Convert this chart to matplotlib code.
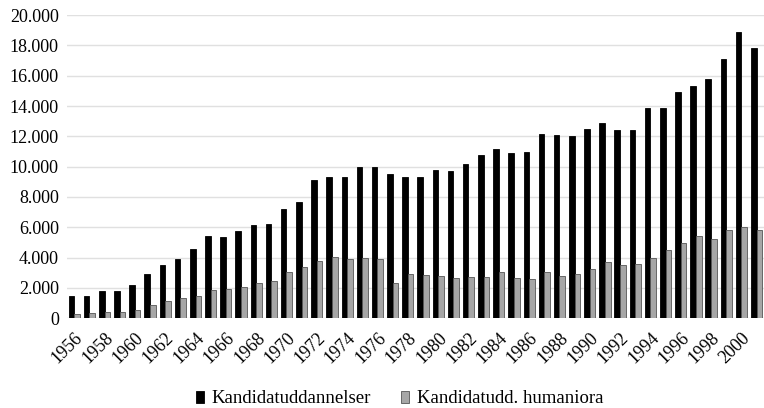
import numpy as np
import matplotlib.pyplot as plt
from matplotlib.ticker import FuncFormatter

years = list(range(1956, 2002))
kandidat = [1500, 1450, 1780, 1780, 2200, 2900, 3500, 3900, 4600, 5450,
            5350, 5750, 6150, 6200, 7200, 7650, 9150, 9300, 9350, 9950,
            9950, 9500, 9300, 9350, 9750, 9700, 10200, 10750, 11150, 10900,
            10950, 12150, 12100, 12000, 12500, 12900, 12450, 12400, 13900, 13900,
            14950, 15300, 15800, 17100, 18900, 17850]
humaniora = [270, 320, 400, 400, 560, 850, 1150, 1350, 1450, 1850,
             1900, 2050, 2350, 2450, 3050, 3400, 3800, 4050, 3900, 3950,
             3900, 2300, 2900, 2850, 2800, 2650, 2700, 2700, 3050, 2650,
             2600, 3050, 2800, 2900, 3250, 3700, 3500, 3600, 4000, 4500,
             4950, 5400, 5200, 5850, 6050, 5800]

plt.rcParams['font.family'] = ['Liberation Serif', 'DejaVu Serif']

fig = plt.figure(figsize=(7.64, 4.08), dpi=100)
ax = fig.add_axes([0.088, 0.22, 0.912, 0.743])

x = np.arange(len(years))
w = 0.37
ax.bar(x - w / 2, kandidat, width=w, color='black', edgecolor='black',
       linewidth=0.6, label='Kandidatuddannelser', zorder=3)
ax.bar(x + w / 2, humaniora, width=w, color='#a6a6a6', edgecolor='#555555',
       linewidth=0.6, label='Kandidatudd. humaniora', zorder=3)

ax.set_ylim(0, 20000)
ax.set_yticks(range(0, 20001, 2000))
ax.yaxis.set_major_formatter(FuncFormatter(lambda v, p: f"{int(v):,}".replace(",", ".")))
ax.grid(axis='y', color='#e0e0e0', linewidth=1, zorder=0)
ax.set_xlim(-0.46, 45.49)
ax.set_xticks(x[::2])
ax.set_xticklabels([str(y) for y in years[::2]], rotation=45, ha='right',
                   rotation_mode='anchor')
ax.tick_params(axis='both', length=0, labelsize=13)
ax.tick_params(axis='x', pad=8)
ax.tick_params(axis='y', pad=6)
for s in ax.spines.values():
    s.set_visible(False)

fig.legend(loc='lower center', bbox_to_anchor=(0.523, -0.04), ncol=2, frameon=False,
           fontsize=13.5, handlelength=0.45, handleheight=0.6, columnspacing=1.6,
           handletextpad=0.4)

fig.savefig('out.png', dpi=100)
